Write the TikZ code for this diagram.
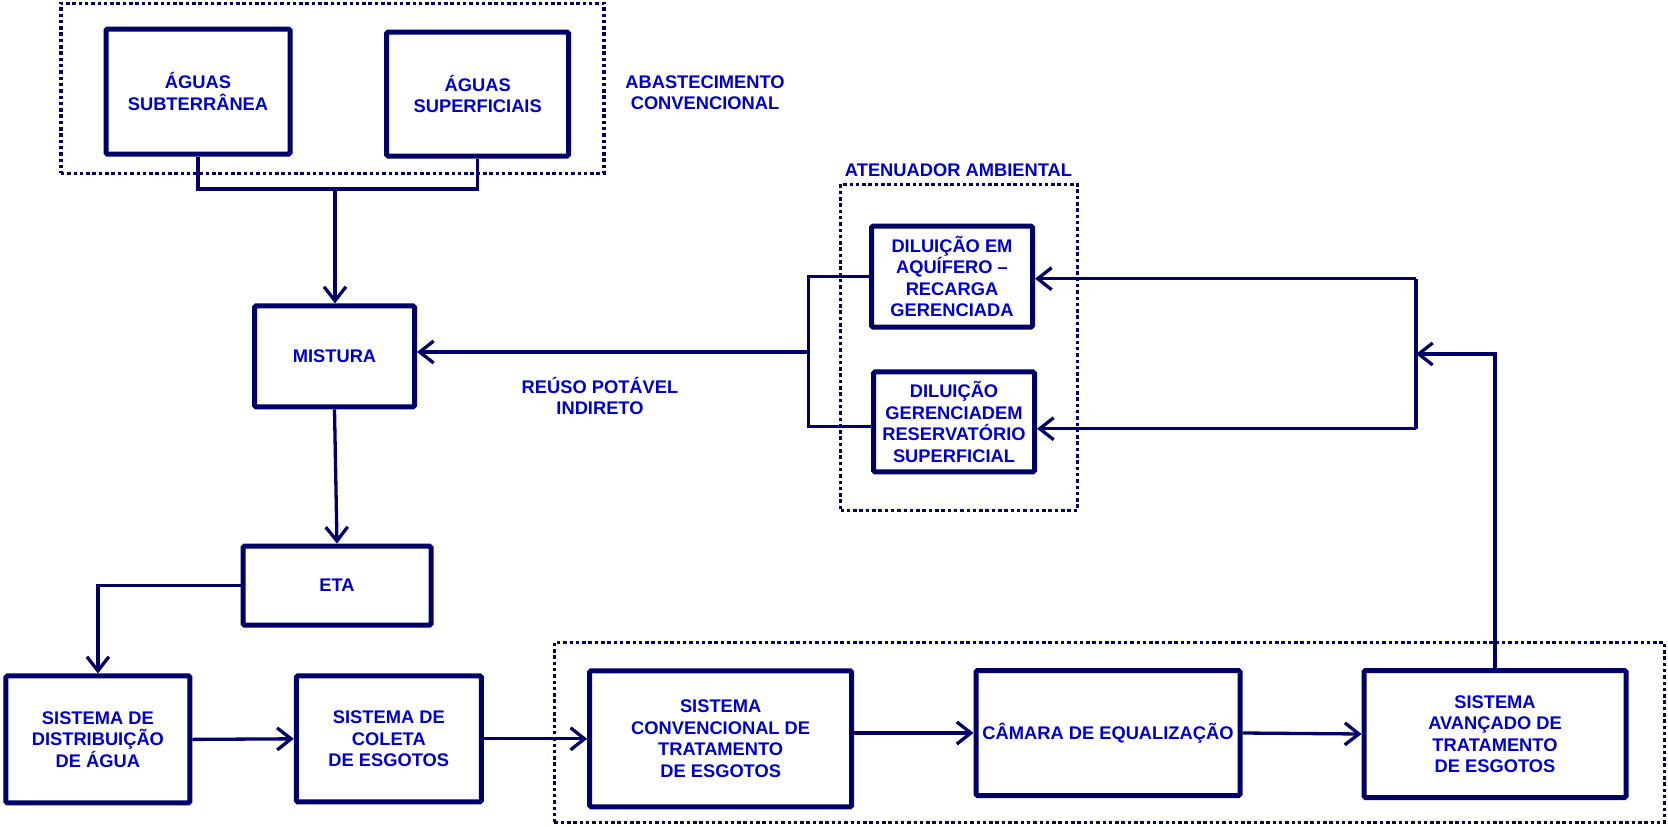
\documentclass[tikz,border=0pt]{standalone}
\usepackage{fontspec}
\setmainfont{Liberation Sans}
\definecolor{boxnavy}{RGB}{0, 0, 102}
\definecolor{textblue}{RGB}{0, 0, 204}
\usetikzlibrary{
  arrows.meta,
  positioning
}

\begin{document}
\begin{tikzpicture}[x=1pt, y=-1pt,
  every node/.style={font=\fontsize{18.3}{21.5}\selectfont\bfseries, text=textblue, align=center},
  stage/.style={draw=boxnavy, line width=5pt, rounded corners=1.5pt, inner sep=0pt},
  group/.style={draw=boxnavy, line width=3.5pt, dash pattern=on 3.5pt off 2.8pt, inner sep=0pt},
  flow/.style={draw=boxnavy, line width=3.3pt},
  arrow/.style={flow, -{Straight Barb[length=14pt, width=22pt]}}]
\useasboundingbox (0,0) rectangle (1668,827);

\node[group, minimum width=543pt, minimum height=170pt] (abastgroup) at (332.4,88.3) {};
\node[group, minimum width=237pt, minimum height=326pt] (atengroup) at (959,347.3) {};
\node[group, minimum width=1110pt, minimum height=180pt] (tratgroup) at (1109.4,732.4) {};

\node[stage, minimum width=184pt, minimum height=125pt] (subt) at (198,91.5) {ÁGUAS\\SUBTERRÂNEA};
\node[stage, minimum width=182pt, minimum height=124pt] (superf) at (477.7,94) {ÁGUAS\\SUPERFICIAIS};
\node (abast) at (705,92.5) {ABASTECIMENTO\\CONVENCIONAL};
\node (aten) at (958.5,170) {ATENUADOR AMBIENTAL};

\node[stage, minimum width=160pt, minimum height=101pt] (mistura) at (334.5,356.4) {MISTURA};
\node[stage, minimum width=188pt, minimum height=79pt] (eta) at (337,585.6) {ETA};
\node[stage, minimum width=161pt, minimum height=101pt] (dil1) at (952,276.6) {DILUIÇÃO EM\\AQUÍFERO –\\RECARGA\\GERENCIADA};
\node[stage, minimum width=161pt, minimum height=100pt] (dil2) at (954,421.8) {DILUIÇÃO\\GERENCIADEM\\RESERVATÓRIO\\SUPERFICIAL};
\node (reuso) at (600,396) {REÚSO POTÁVEL\\INDIRETO};

\node[stage, minimum width=184pt, minimum height=127pt] (dist) at (97.9,739.4) {SISTEMA DE\\DISTRIBUIÇÃO\\DE ÁGUA};
\node[stage, minimum width=185pt, minimum height=126pt] (coleta) at (388.8,738.8) {SISTEMA DE\\COLETA\\DE ESGOTOS};
\node[stage, minimum width=262pt, minimum height=136pt] (conv) at (720.7,738.8) {SISTEMA\\CONVENCIONAL DE\\TRATAMENTO\\DE ESGOTOS};
\node[stage, minimum width=264pt, minimum height=125pt] (cam) at (1108,733) {CÂMARA DE EQUALIZAÇÃO};
\node[stage, minimum width=262pt, minimum height=127pt] (avan) at (1495,734) {SISTEMA\\AVANÇADO DE\\TRATAMENTO\\DE ESGOTOS};

\coordinate (merge) at (335,189);
\coordinate (lbartop) at (808.5,276.6);
\coordinate (lbarmid) at (808.5,352);
\coordinate (lbarbot) at (808.5,426.6);
\coordinate (rbartop) at (1416,278.7);
\coordinate (rbarmid) at (1416,354);
\coordinate (rbarbot) at (1416,428.7);

\draw[flow] (subt.south) |- (superf.south |- merge) -- (superf.south);
\draw[arrow] (merge) -- (merge |- mistura.north);
\draw[arrow] (mistura.south) -- (eta.north);
\draw[arrow] (eta.west) -| (dist.north);
\draw[arrow] (dist.east) -- (coleta.west);
\draw[arrow] (coleta.east) -- (conv.west);
\draw[arrow] (conv.east |- cam.west) -- (cam.west);
\draw[arrow] (cam.east) -- (avan.west);

\draw[arrow] (avan.north) |- (rbarmid);
\draw[flow] (rbartop) -- (rbarbot);
\draw[arrow] (rbartop) -- (rbartop -| dil1.east);
\draw[arrow] (rbarbot) -- (rbarbot -| dil2.east);
\draw[flow] (dil1.west) -- (lbartop) -- (lbarbot) -- (lbarbot -| dil2.west);
\draw[arrow] (lbarmid) -- (lbarmid -| mistura.east);
\end{tikzpicture}
\end{document}
